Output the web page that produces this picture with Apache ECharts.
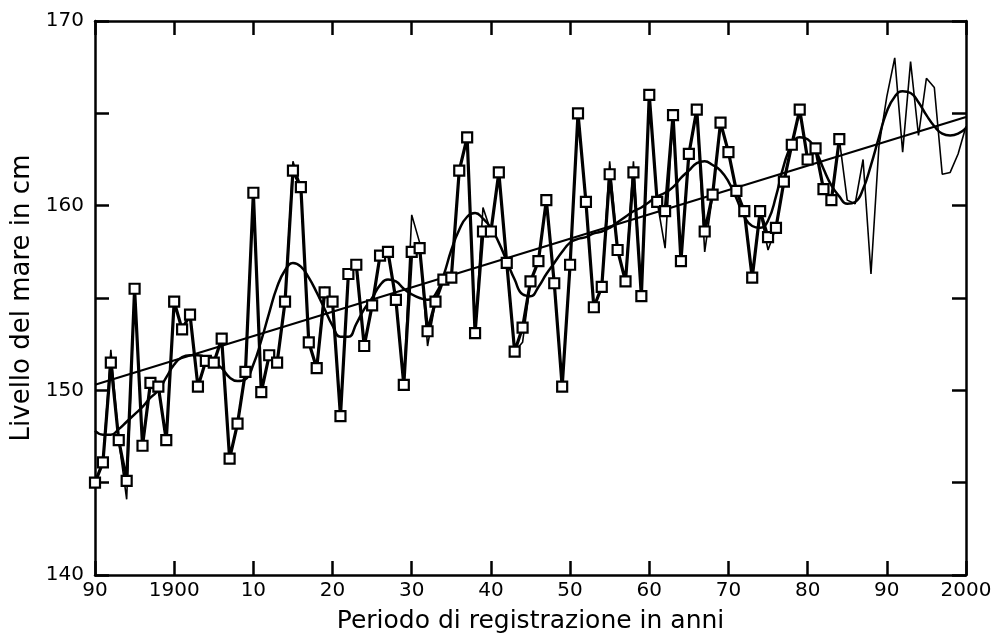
<!DOCTYPE html>
<html><head><meta charset="utf-8">
<script src="https://cdn.jsdelivr.net/npm/echarts/dist/echarts.min.js"></script>
<style>html,body{margin:0;padding:0;background:#fff}#c{width:997px;height:641px}</style>
</head><body><div id="c"></div>
<script>
const startYear = 1890;
const xTickLabels = ['90','1900','10','20','30','40','50','60','70','80','90','2000'];
const yTickLabels = ['140','','150','','160','','170'];

// annual values with square markers (1890-1984)
const markerValues = [
145.0,146.1,151.5,147.3,145.1,155.5,147.0,150.4,150.2,147.3,
154.8,153.3,154.1,150.2,151.6,151.5,152.8,146.3,148.2,151.0,
160.7,149.9,151.9,151.5,154.8,161.9,161.0,152.6,151.2,155.3,
154.8,148.6,156.3,156.8,152.4,154.6,157.3,157.5,154.9,150.3,
157.5,157.7,153.2,154.8,156.0,156.1,161.9,163.7,153.1,158.6,
158.6,161.8,156.9,152.1,153.4,155.9,157.0,160.3,155.8,150.2,
156.8,165.0,160.2,154.5,155.6,161.7,157.6,155.9,161.8,155.1,
166.0,160.2,159.7,164.9,157.0,162.8,165.2,158.6,160.6,164.5,
162.9,160.8,159.7,156.1,159.7,158.3,158.8,161.3,163.3,165.2,
162.5,163.1,160.9,160.3,163.6
];

// thin line values (1890-2000)
const thinValues = [
145.0,146.1,152.2,147.3,144.1,155.5,147.0,150.4,150.2,147.3,
154.8,153.3,154.1,150.2,151.6,151.5,152.8,146.3,148.2,151.0,
160.7,149.9,151.9,151.5,154.8,162.4,161.0,152.6,151.2,155.6,
154.8,148.6,156.3,156.8,152.4,154.6,157.3,157.5,154.9,150.3,
159.5,158.0,152.4,154.8,156.0,156.1,161.9,163.7,153.1,159.9,
158.6,161.8,156.9,152.1,152.6,155.9,157.0,160.3,155.8,150.2,
156.8,165.0,160.2,154.5,155.6,162.4,157.6,155.9,162.4,155.1,
166.0,160.2,157.7,164.9,157.0,162.8,165.2,157.5,160.6,164.5,
162.9,160.8,159.7,156.1,159.7,157.6,158.8,161.3,163.3,165.2,
162.5,163.1,160.9,160.3,163.6,160.3,160.1,162.5,156.3,163.2,
165.9,168.0,162.9,167.8,163.8,166.9,166.4,161.7,161.8,162.8,
164.3
];

// smoothed curve (1890-2000)
const smoothValues = [
147.8,147.6,147.6,147.9,148.3,148.7,149.1,149.6,150.0,150.7,
151.4,151.8,151.9,151.9,151.8,151.5,151.2,150.7,150.5,150.6,
151.4,152.7,154.2,155.6,156.5,156.9,156.7,156.1,155.3,154.4,
153.5,152.9,152.9,153.6,154.4,155.0,155.7,156.0,155.9,155.5,
155.2,155.0,154.9,155.2,156.2,157.6,158.7,159.4,159.6,159.3,
158.8,158.0,157.0,156.0,155.2,155.1,155.6,156.3,156.9,157.5,
158.0,158.2,158.3,158.5,158.6,158.8,159.1,159.4,159.7,159.9,
160.2,160.5,160.7,161.0,161.5,161.9,162.3,162.4,162.2,161.9,
161.3,160.4,159.4,158.9,158.8,159.2,160.5,162.2,163.3,163.7,
163.6,163.0,162.0,161.1,160.5,160.1,160.2,160.9,162.2,163.7,
165.1,165.9,166.2,166.1,165.6,164.9,164.3,163.9,163.8,163.9,
164.2
];

// linear trend end points
const trendYears = [1890, 2000];
const trendValues = [150.3, 164.8];

const toPairs = (vals) => vals.map((v, i) => [startYear + i, v]);
const FONT = 'DejaVu Sans';
const axisLineStyle = { show: true, lineStyle: { color: '#000', width: 2.5 } };
const tickStyle = { show: true, inside: true, length: 14, lineStyle: { color: '#000', width: 2.5 } };

const chart = echarts.init(document.getElementById('c'), null, { renderer: 'canvas' });
chart.setOption({
  animation: false,
  backgroundColor: '#fff',
  grid: { left: 95, right: 31, top: 21, bottom: 66, containLabel: false },
  xAxis: [
    {
      type: 'value', min: 1890, max: 2000, interval: 10, position: 'bottom',
      axisLine: axisLineStyle, axisTick: tickStyle, splitLine: { show: false },
      axisLabel: { formatter: (v) => xTickLabels[Math.round((v - 1890) / 10)], margin: 6,
        fontSize: 20, color: '#000', fontFamily: FONT },
      name: 'Periodo di registrazione in anni', nameLocation: 'middle', nameGap: 34,
      nameTextStyle: { fontSize: 25, color: '#000', fontFamily: FONT }
    },
    {
      type: 'value', min: 1890, max: 2000, interval: 10, position: 'top',
      axisLine: axisLineStyle, axisTick: tickStyle, splitLine: { show: false },
      axisLabel: { show: false }
    }
  ],
  yAxis: [
    {
      type: 'value', min: 140, max: 170, interval: 5, position: 'left',
      axisLine: axisLineStyle, axisTick: tickStyle, splitLine: { show: false },
      axisLabel: { formatter: (v) => yTickLabels[Math.round((v - 140) / 5)], margin: 11,
        fontSize: 20, color: '#000', fontFamily: FONT },
      name: 'Livello del mare in cm', nameLocation: 'middle', nameGap: 47,
      nameTextStyle: { fontSize: 26, color: '#000', fontFamily: FONT }
    },
    {
      type: 'value', min: 140, max: 170, interval: 5, position: 'right',
      axisLine: axisLineStyle, axisTick: tickStyle, splitLine: { show: false },
      axisLabel: { show: false }
    }
  ],
  series: [
    {
      type: 'line', data: trendYears.map((y, i) => [y, trendValues[i]]),
      symbol: 'none', lineStyle: { color: '#000', width: 2.2 }, z: 2
    },
    {
      type: 'line', data: toPairs(smoothValues), smooth: 0.5,
      symbol: 'none', lineStyle: { color: '#000', width: 2.5 }, z: 3
    },
    {
      type: 'line', data: toPairs(thinValues),
      symbol: 'none', lineStyle: { color: '#000', width: 1.6 }, z: 4
    },
    {
      type: 'line', data: toPairs(markerValues),
      symbol: 'rect', symbolSize: 10, showAllSymbol: true,
      itemStyle: { color: '#fff', borderColor: '#000', borderWidth: 2.2 },
      lineStyle: { color: '#000', width: 3.2 }, z: 5
    }
  ]
});
</script>
</body></html>
